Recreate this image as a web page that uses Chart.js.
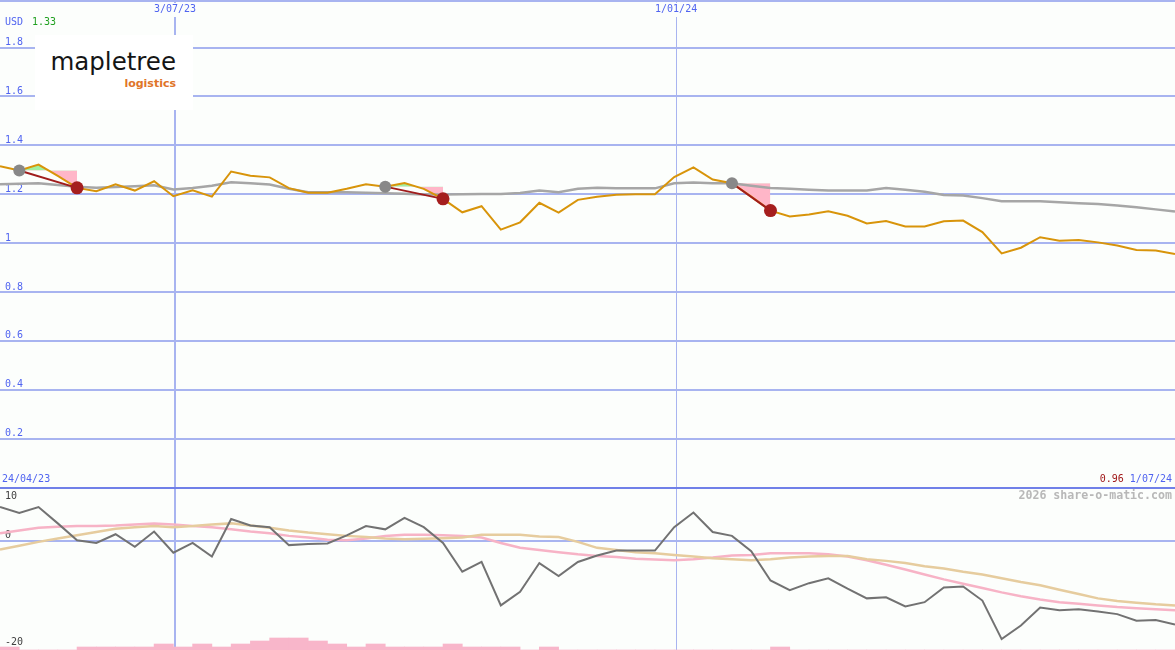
<!DOCTYPE html>
<html><head><meta charset="utf-8">
<script src="https://cdn.jsdelivr.net/npm/chart.js"></script>
<style>
html,body{margin:0;padding:0;background:#fcfefc;}
#wrap{position:relative;width:1175px;height:650px;overflow:hidden;background:#fcfefc;}
canvas{position:absolute;left:0;}
#top{top:0;}
#bot{top:489px;}
.lbl{position:absolute;font-family:"DejaVu Sans Mono",monospace;font-size:10px;line-height:10px;white-space:pre;z-index:5;}
#logo{position:absolute;left:35px;top:35px;width:158px;height:75px;background:#ffffff;z-index:4;}
#logo .m{position:absolute;right:17px;top:15px;font-family:"DejaVu Sans",sans-serif;font-size:24.5px;line-height:24.5px;color:#151515;white-space:pre;}
#logo .l{position:absolute;right:17px;top:43px;font-family:"DejaVu Sans",sans-serif;font-weight:bold;font-size:11px;line-height:11px;color:#e07428;white-space:pre;}
</style></head>
<body>
<div id="wrap">
<canvas id="top" width="1175" height="489"></canvas>
<canvas id="bot" width="1175" height="161"></canvas>
<div id="logo"><div class="m">mapletree</div><div class="l">logistics</div></div>
<div class="lbl" style="left:5px;top:17px;color:#5064f0">USD</div>
<div class="lbl" style="left:32px;top:17px;color:#20a020">1.33</div>
<div class="lbl" style="left:2px;top:474px;color:#5064f0">24/04/23</div>
<div class="lbl" style="right:3px;top:474px"><span style="color:#a01818">0.96</span> <span style="color:#5064f0">1/07/24</span></div>
<div class="lbl" style="right:3px;top:490px;font-size:11.6px;line-height:11.6px;font-weight:bold;color:#b8b8b8">2026 share-o-matic.com</div>
</div>
<script>
// ---- data ----
const weekNo = [1,2,3,4,5,6,7,8,9,10,11,12,13,14,15,16,17,18,19,20,21,22,23,24,25,26,27,28,29,30,31,32,33,34,35,36,37,38,39,40,41,42,43,44,45,46,47,48,49,50,51,52,53,54,55,56,57,58,59,60,61,62];
const closePrice = [1.315,1.297,1.321,1.275,1.226,1.212,1.241,1.215,1.253,1.192,
 1.216,1.190,1.293,1.276,1.269,1.225,1.206,1.206,1.222,1.241,
 1.231,1.246,1.222,1.181,1.126,1.151,1.055,1.085,1.165,1.125,
 1.177,1.190,1.198,1.200,1.200,1.270,1.310,1.260,1.245,1.190,
 1.133,1.109,1.117,1.130,1.112,1.080,1.090,1.068,1.068,1.089,
 1.092,1.045,0.958,0.981,1.024,1.010,1.013,1.003,0.990,0.972,
 0.970,0.955];
const movingAvg = [1.241,1.243,1.245,1.238,1.231,1.226,1.230,1.233,1.237,1.219,
 1.225,1.235,1.249,1.245,1.240,1.222,1.208,1.208,1.208,1.206,
 1.204,1.202,1.199,1.199,1.200,1.201,1.201,1.205,1.215,1.208,
 1.222,1.226,1.224,1.224,1.224,1.245,1.248,1.245,1.245,1.235,
 1.225,1.222,1.218,1.215,1.215,1.215,1.225,1.218,1.210,1.197,
 1.195,1.184,1.171,1.171,1.171,1.167,1.163,1.160,1.154,1.147,
 1.138,1.129];
const oscMain = [6.3,5.2,6.3,3.3,0.2,-0.3,1.3,-1.0,1.8,-2.1,
 -0.3,-2.8,4.1,2.9,2.6,-0.7,-0.5,-0.4,1.1,2.8,
 2.2,4.3,2.6,-0.3,-5.6,-3.8,-11.8,-9.3,-4.0,-6.4,
 -3.8,-2.6,-1.7,-1.7,-1.7,2.6,5.3,1.7,1.0,-1.8,
 -7.2,-9.0,-7.7,-6.8,-8.7,-10.5,-10.3,-12.0,-11.2,-8.5,
 -8.3,-10.9,-18.0,-15.5,-12.2,-12.7,-12.5,-12.9,-13.4,-14.6,
 -14.5,-15.3];
const oscPink = [1.5,2.0,2.5,2.7,2.8,2.8,2.9,3.1,3.3,3.1,
 2.8,2.6,2.2,1.8,1.5,1.0,0.7,0.3,0.2,0.5,
 1.0,1.2,1.2,1.1,1.0,0.7,-0.3,-1.2,-1.6,-2.0,
 -2.4,-2.7,-2.9,-3.2,-3.35,-3.5,-3.3,-3.0,-2.6,-2.5,
 -2.2,-2.2,-2.2,-2.4,-2.8,-3.5,-4.3,-5.2,-6.1,-7.0,
 -7.8,-8.6,-9.4,-10.1,-10.7,-11.2,-11.5,-11.8,-12.1,-12.3,
 -12.5,-12.7];
const oscTan = [-1.5,-0.8,-0.1,0.5,1.1,1.7,2.3,2.6,2.8,2.6,
 2.8,3.1,3.3,2.9,2.5,2.0,1.6,1.3,1.0,0.8,
 0.5,0.4,0.45,0.55,0.7,1.2,1.2,1.2,0.9,0.8,
 -0.1,-1.2,-1.6,-2.0,-2.2,-2.5,-2.8,-3.1,-3.3,-3.5,
 -3.3,-3.0,-2.8,-2.7,-2.7,-3.3,-3.6,-4.0,-4.6,-5.0,
 -5.6,-6.1,-6.8,-7.5,-8.1,-8.9,-9.7,-10.5,-11.0,-11.3,
 -11.6,-11.8];
const volume = [1,0,0,0,1,1,1,1,2,1,
 2,1,2,3,4,4,3,2,1,2,
 1,1,1,2,1,1,1,0,1,0,
 0,0,0,0,0,0,0,0,0,0,
 1,0,0,0,0,0,0,0,0,0,
 0,0,0,0,0,0,0,0,0,0,
 0,0];
const dividendEvents = [{from:2,to:5},{from:21,to:24},{from:39,to:41}];
const dateMarks = [10.085, 36.1];
const dateLabels = ['3/07/23','1/01/24'];
const priceTicks = [0.2,0.4,0.6,0.8,1.0,1.2,1.4,1.6,1.8];
const priceTickLabels = ['0.2','0.4','0.6','0.8','1','1.2','1.4','1.6','1.8'];
const oscTickValues = [10,0,-20];
const oscTickLabels = ['10','0','-20'];

// ---- helpers ----
const pts = arr => arr.map((v,i)=>({x:weekNo[i], y:v}));
const noPad = s => { s.paddingTop = 0; s.paddingBottom = 0; s.paddingLeft = 0; s.paddingRight = 0; };
const monoFont = {family:'DejaVu Sans Mono', size:10};
const BG = '#fcfefc';
const GRID = '#a8b4f0';

const TOP_MIN = -0.006137, TOP_MAX = 1.99468;
const BOT_MIN = -20, BOT_MAX = 9.626;
const botPx = 161/(BOT_MAX-BOT_MIN);
const oscNudge = [9, -6, -8]; // label centre offset (px) from its value line

// ---- top chart datasets ----
const topDatasets = [];
dividendEvents.forEach(ev => {
  const seg = [];
  for (let w = ev.from; w <= ev.to; w++) seg.push({x:weekNo[w-1], y:closePrice[w-1]});
  const level = closePrice[ev.from-1];
  topDatasets.push({type:'line', data:seg, borderWidth:0, borderColor:'rgba(0,0,0,0)', pointRadius:0,
    fill:{target:{value:level}, above:'#a0f0a0', below:'#ffb6c8'}, order:6});
  topDatasets.push({type:'line', data:[seg[0], seg[seg.length-1]], borderColor:'#a01c1c', borderWidth:2, pointRadius:0, fill:false, order:1});
  topDatasets.push({type:'line', data:[seg[0]], showLine:false, pointRadius:6, pointBackgroundColor:'#888888', pointBorderWidth:0, order:0});
  topDatasets.push({type:'line', data:[seg[seg.length-1]], showLine:false, pointRadius:6.5, pointBackgroundColor:'#a51e1e', pointBorderWidth:0, order:0});
});
topDatasets.push({type:'line', data:pts(closePrice), borderColor:'#d8940a', borderWidth:2, pointRadius:0, tension:0, fill:false, order:2});
topDatasets.push({type:'line', data:pts(movingAvg), borderColor:'#a6a6a6', borderWidth:2.5, pointRadius:0, tension:0, fill:false, order:3});

const common = {
  responsive:false, animation:false, events:[], devicePixelRatio:1,
  layout:{padding:0, autoPadding:false},
  plugins:{legend:{display:false}, tooltip:{enabled:false}, title:{display:false}}
};

new Chart(document.getElementById('top'), {
  type:'line',
  data:{datasets:topDatasets},
  options:Object.assign({}, common, {
    scales:{
      x:{type:'linear', position:'top', min:weekNo[0], max:weekNo[weekNo.length-1], offset:false,
        border:{display:false},
        grid:{drawTicks:false, offset:false, color:GRID, lineWidth:ctx => ctx.index===0 ? 2 : 1},
        afterBuildTicks:s => { s.ticks = dateMarks.map(v=>({value:v})); },
        afterFit:s => { s.height = 0; noPad(s); },
        ticks:{mirror:true, padding:3, autoSkip:false, maxRotation:0, minRotation:0, color:'#5064f0', font:monoFont,
          callback:(v,i) => dateLabels[i],
          showLabelBackdrop:true, backdropColor:BG, backdropPadding:{top:0,bottom:2,left:2,right:2}}
      },
      y:{type:'linear', min:TOP_MIN, max:TOP_MAX,
        border:{display:false},
        grid:{drawTicks:false, color:ctx => ctx.tick && ctx.tick.value===0 ? '#7080e8' : GRID,
          lineWidth:ctx => ctx.tick && ctx.tick.value > 1.9 ? 4 : 2},
        afterBuildTicks:s => { s.ticks = [0, ...priceTicks, TOP_MAX].map(v=>({value:v})); },
        afterFit:s => { s.width = 0; noPad(s); },
        ticks:{mirror:true, padding:5, labelOffset:-5, autoSkip:false, color:'#5064f0', font:monoFont,
          callback:(v,i) => (i>=1 && i<=priceTickLabels.length) ? priceTickLabels[i-1] : ''}
      }
    }
  })
});

new Chart(document.getElementById('bot'), {
  type:'line',
  data:{datasets:[
    {type:'line', data:pts(oscMain), borderColor:'#727272', borderWidth:2, pointRadius:0, tension:0, fill:false, order:0},
    {type:'line', data:pts(oscTan), borderColor:'#e6cc9e', borderWidth:2.5, pointRadius:0, tension:0, fill:false, order:1},
    {type:'line', data:pts(oscPink), borderColor:'#f7b3c6', borderWidth:2.5, pointRadius:0, tension:0, fill:false, order:2},
    {type:'bar', data:volume.map((v,i)=>({x:weekNo[i]+0.5, y:v})), yAxisID:'yv', backgroundColor:'#f8b6ca',
      borderWidth:0, barPercentage:1, categoryPercentage:1, order:3}
  ]},
  options:Object.assign({}, common, {
    scales:{
      x:{type:'linear', position:'bottom', min:weekNo[0], max:weekNo[weekNo.length-1], offset:false,
        border:{display:false},
        grid:{drawTicks:false, offset:false, color:GRID, lineWidth:ctx => ctx.index===0 ? 2 : 1},
        afterBuildTicks:s => { s.ticks = dateMarks.map(v=>({value:v})); },
        afterFit:s => { s.height = 0; noPad(s); },
        ticks:{display:false}
      },
      y:{type:'linear', min:BOT_MIN, max:BOT_MAX,
        border:{display:false},
        grid:{drawTicks:false, color:ctx => ctx.index===0 ? GRID : 'rgba(0,0,0,0)', lineWidth:2},
        afterBuildTicks:s => { s.ticks = [{value:0}].concat(oscTickValues.map((v,i)=>({value: v - oscNudge[i]/botPx}))); },
        afterFit:s => { s.width = 0; noPad(s); },
        ticks:{mirror:true, padding:5, autoSkip:false, color:'#404040', font:monoFont,
          callback:(v,i) => i===0 ? '' : oscTickLabels[i-1]}
      },
      yv:{type:'linear', display:false, min:0, max:161/3}
    }
  })
});
</script>
</body></html>
